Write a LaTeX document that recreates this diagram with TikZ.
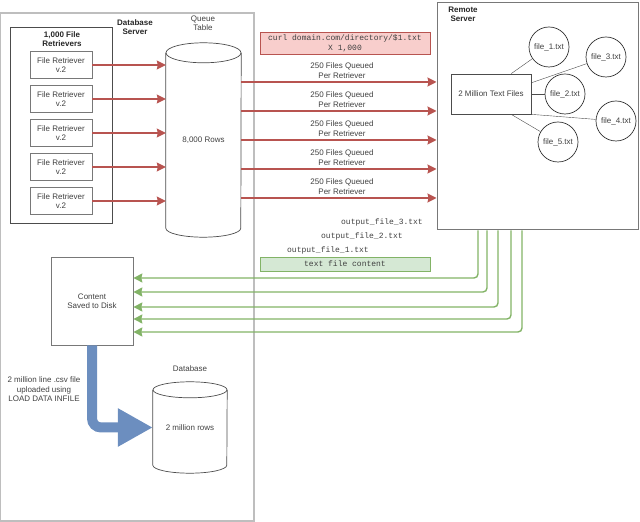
\documentclass[tikz,border=0pt]{standalone}
\usepackage{fontspec}
\setmainfont{Liberation Sans}
\setmonofont{Liberation Mono}
\usepackage{xcolor}
\usepackage{tikz}
\usetikzlibrary{arrows.meta, positioning, calc}
\definecolor{queuered}{RGB}{184, 84, 80}
\definecolor{curlfill}{RGB}{248, 206, 204}
\definecolor{backgreen}{RGB}{130, 179, 102}
\definecolor{contentfill}{RGB}{213, 232, 212}
\definecolor{loadblue}{RGB}{108, 142, 191}
\definecolor{boxgray}{RGB}{120, 120, 120}
\definecolor{servgray}{RGB}{190, 190, 190}

\begin{document}
\begin{tikzpicture}[x=1pt, y=1pt,
    font=\fontsize{8}{9.5}\selectfont, text=black!75,
    every node/.style={align=center, inner sep=0pt},
    plainbox/.style={draw=boxgray, fill=white, line width=0.7pt},
    cyl/.style={draw=black!70, line width=0.7pt},
    queued/.style={queuered, line width=1.4pt, -{Stealth[length=9pt, width=9pt, inset=1pt]}},
    back/.style={backgreen, line width=1.4pt, rounded corners=4pt,
        -{Stealth[length=9pt, width=9pt, inset=1pt]}},
    codebox/.style={font=\fontsize{8}{10}\selectfont\ttfamily, line width=0.7pt}]
    \useasboundingbox (0,0) rectangle (640,522);
    % Server boxes
    \node[draw=servgray, line width=1.2pt, minimum width=254, minimum height=508]
        (dbserver) at (127,255) {};
    \node[draw=boxgray, line width=1pt, minimum width=201, minimum height=227]
        (remote) at (537.5,405.5) {};
    \node[font=\fontsize{8}{9}\selectfont\bfseries, text=black!85] at (135,494.5) {Database\\Server};
    \node[font=\fontsize{8}{9}\selectfont\bfseries, text=black!85] at (463,508) {Remote\\Server};
    % File retrievers
    \node[draw=black!70, line width=0.7pt, minimum width=102, minimum height=196]
        (group) at (61,397) {};
    \node[font=\fontsize{8}{9}\selectfont\bfseries, text=black!85] at (62,482.5) {1,000 File\\Retrievers};
    \foreach \i in {1,...,5} {
        \node[plainbox, minimum width=62, minimum height=27]
            (retr\i) at (61,{491-34*\i}) {File Retriever\\v.2};
    }
    % Queue table
    \node[minimum width=75, minimum height=175] (queue) at (203.5,381.5) {8,000 Rows};
    \draw[cyl] (queue.north west) -- (queue.south west)
        arc[start angle=180, end angle=360, x radius=37.5, y radius=9] -- (queue.north east);
    \draw[cyl] (queue.north) ellipse[x radius=37.5, y radius=10];
    \node at (203,498.5) {Queue\\Table};
    \foreach \i in {1,...,5} {
        \draw[queued] (retr\i.east) -- (retr\i.east -| queue.west);
    }
    % Queued files
    \node[codebox, draw=queuered, fill=curlfill, minimum width=170, minimum height=22]
        (curl) at (345,479) {curl domain.com/directory/\$1.txt\\X 1,000};
    \foreach \i in {1,...,5} {
        \draw[queued] (queue.east |- 0,{469-29*\i}) -- (remote.west |- 0,{469-29*\i});
        \node at (342,{480.5-29*\i}) {250 Files Queued\\Per Retriever};
    }
    % Text files on remote
    \node[draw=black!70, fill=white, line width=0.7pt, minimum width=80, minimum height=40]
        (txtfiles) at (491,428) {2 Million Text Files};
    \foreach \name/\pos in {1/{549,475}, 3/{606,465}, 2/{565,428}, 4/{616,401}, 5/{558,380}} {
        \node[draw=black!80, circle, line width=0.7pt, minimum size=40] (file\name) at (\pos) {file\_\name.txt};
    }
    \draw[black!70] ($(txtfiles.north)!0.5!(txtfiles.north east)$) -- (file1);
    \draw[black!70] ($(txtfiles.east)!0.55!(txtfiles.north east)$) -- (file3);
    \draw[black!70] (txtfiles.east) -- (file2);
    \draw[black!70] (txtfiles.south east) -- (file4);
    \draw[black!70] ($(txtfiles.south)!0.5!(txtfiles.south east)$) -- (file5);
    % Content back to disk
    \node[plainbox, minimum width=82, minimum height=88] (content) at (92,221) {Content\\Saved to Disk};
    \foreach \x/\y in {478/244, 487/230, 498/215, 511/203, 522/190} {
        \draw[back] (remote.south -| \x,0) |- (content.east |- 0,\y);
    }
    \node[codebox] at (382,300) {output\_file\_3.txt};
    \node[codebox] at (362,286) {output\_file\_2.txt};
    \node[codebox] at (328,272) {output\_file\_1.txt};
    \node[codebox, draw=backgreen, fill=contentfill, minimum width=170, minimum height=14]
        (textcontent) at (345,258) {text file content};
    % Database
    \node[minimum width=74, minimum height=75] (db) at (190,94.5) {2 million rows};
    \draw[cyl] (db.north west) -- (db.south west)
        arc[start angle=180, end angle=360, x radius=37, y radius=8] -- (db.north east);
    \draw[cyl] (db.north) ellipse[x radius=37, y radius=8];
    \node at (190,153) {Database};
    \draw[loadblue, line width=10pt, rounded corners=9pt,
        -{Triangle[length=35pt, width=36pt]}]
        (content.south) |- (db.west);
    \node at (44,132.5) {2 million line .csv file\\uploaded using\\LOAD DATA INFILE};
\end{tikzpicture}
\end{document}
